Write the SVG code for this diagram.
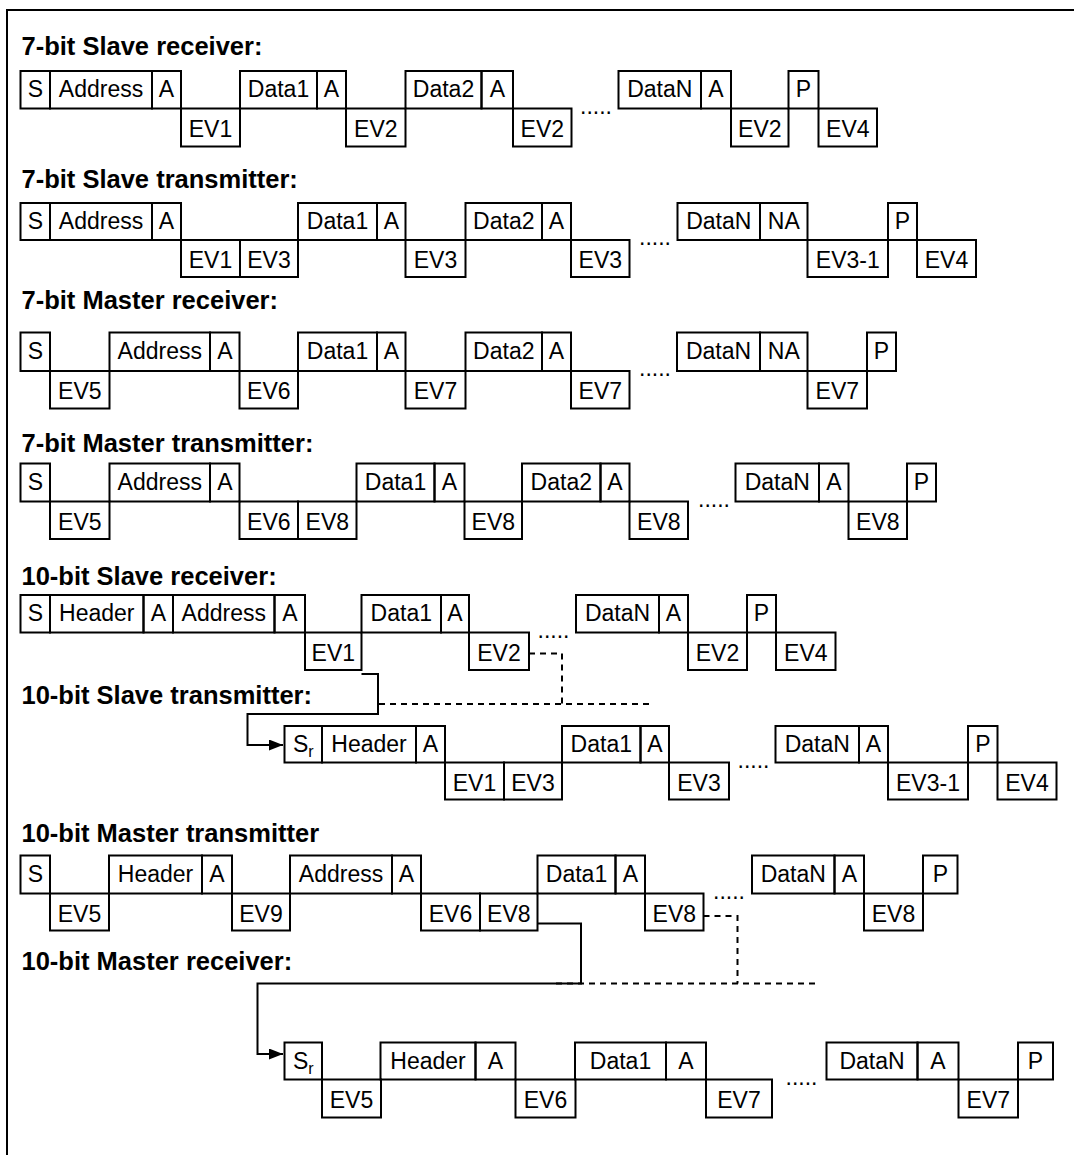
<svg xmlns="http://www.w3.org/2000/svg" width="1074" height="1155" viewBox="0 0 1074 1155">
<defs>
<style>
rect{fill:none;stroke:#000;stroke-width:2}
text{font-family:"Liberation Sans",Arial,Helvetica,sans-serif;fill:#000}
.t{font-size:23px;text-anchor:middle}
.l{font-size:25.5px;font-weight:bold}
.d{font-size:23px}
.c{fill:none;stroke:#000;stroke-width:2}
.dash{fill:none;stroke:#000;stroke-width:2;stroke-dasharray:6 5}
</style>
<marker id="ah" markerUnits="userSpaceOnUse" markerWidth="15" markerHeight="12" refX="14" refY="5.5" orient="auto"><path d="M0,0 L14,5.5 L0,11 z" fill="#000"/></marker>
</defs>
<rect x="0" y="0" width="1074" height="1155" style="fill:#fff;stroke:none"/>
<path class="c" d="M7 1160 V10 H1080"/>

<g id="labels">
<text class="l" x="21.5" y="55">7-bit Slave receiver:</text>
<text class="l" x="21.5" y="187.5">7-bit Slave transmitter:</text>
<text class="l" x="21.5" y="309">7-bit Master receiver:</text>
<text class="l" x="21.5" y="451.5">7-bit Master transmitter:</text>
<text class="l" x="21.5" y="585">10-bit Slave receiver:</text>
<text class="l" x="21.5" y="703.5">10-bit Slave transmitter:</text>
<text class="l" x="21.5" y="841.5">10-bit Master transmitter</text>
<text class="l" x="21.5" y="970">10-bit Master receiver:</text>
</g>

<!-- Row 1: T71 M108.5 B146.5 -->
<g id="r1-s"><rect x="20.5" y="71" width="29.5" height="37.5"/><text class="t" x="35.3" y="97">S</text></g>
<g id="r1-addr"><rect x="50" y="71" width="102" height="37.5"/><text class="t" x="101" y="97">Address</text></g>
<g id="r1-a1"><rect x="152" y="71" width="29" height="37.5"/><text class="t" x="166.5" y="97">A</text></g>
<g id="r1-ev1"><rect x="181" y="108.5" width="59" height="38"/><text class="t" x="210.5" y="136.5">EV1</text></g>
<g id="r1-d1"><rect x="240" y="71" width="77" height="37.5"/><text class="t" x="278.5" y="97">Data1</text></g>
<g id="r1-a2"><rect x="317" y="71" width="29" height="37.5"/><text class="t" x="331.5" y="97">A</text></g>
<g id="r1-ev2a"><rect x="346" y="108.5" width="59.5" height="38"/><text class="t" x="375.8" y="136.5">EV2</text></g>
<g id="r1-d2"><rect x="405.5" y="71" width="76" height="37.5"/><text class="t" x="443.5" y="97">Data2</text></g>
<g id="r1-a3"><rect x="481.5" y="71" width="31.5" height="37.5"/><text class="t" x="497.3" y="97">A</text></g>
<g id="r1-ev2b"><rect x="513" y="108.5" width="58.5" height="38"/><text class="t" x="542.3" y="136.5">EV2</text></g>
<text class="d" x="580" y="113.5">.....</text>
<g id="r1-dn"><rect x="618.5" y="71" width="82.5" height="37.5"/><text class="t" x="659.8" y="97">DataN</text></g>
<g id="r1-a4"><rect x="701" y="71" width="30" height="37.5"/><text class="t" x="716" y="97">A</text></g>
<g id="r1-ev2c"><rect x="731" y="108.5" width="57.5" height="38"/><text class="t" x="759.8" y="136.5">EV2</text></g>
<g id="r1-p"><rect x="788.5" y="71" width="30" height="37.5"/><text class="t" x="803.5" y="97">P</text></g>
<g id="r1-ev4"><rect x="818.5" y="108.5" width="58.5" height="38"/><text class="t" x="847.8" y="136.5">EV4</text></g>

<!-- Row 2: T203 M240 B277 -->
<g id="r2-s"><rect x="20.5" y="203" width="29.5" height="37"/><text class="t" x="35.3" y="229">S</text></g>
<g id="r2-addr"><rect x="50" y="203" width="102" height="37"/><text class="t" x="101" y="229">Address</text></g>
<g id="r2-a1"><rect x="152" y="203" width="29" height="37"/><text class="t" x="166.5" y="229">A</text></g>
<g id="r2-ev1"><rect x="181" y="240" width="59" height="37"/><text class="t" x="210.5" y="268">EV1</text></g>
<g id="r2-ev3a"><rect x="240" y="240" width="58" height="37"/><text class="t" x="269" y="268">EV3</text></g>
<g id="r2-d1"><rect x="298" y="203" width="79" height="37"/><text class="t" x="337.5" y="229">Data1</text></g>
<g id="r2-a2"><rect x="377" y="203" width="28.5" height="37"/><text class="t" x="391.3" y="229">A</text></g>
<g id="r2-ev3b"><rect x="405.5" y="240" width="60" height="37"/><text class="t" x="435.5" y="268">EV3</text></g>
<g id="r2-d2"><rect x="465.5" y="203" width="76.5" height="37"/><text class="t" x="503.8" y="229">Data2</text></g>
<g id="r2-a3"><rect x="542" y="203" width="29" height="37"/><text class="t" x="556.5" y="229">A</text></g>
<g id="r2-ev3c"><rect x="571" y="240" width="58.5" height="37"/><text class="t" x="600.3" y="268">EV3</text></g>
<text class="d" x="639" y="245">.....</text>
<g id="r2-dn"><rect x="677.5" y="203" width="82.5" height="37"/><text class="t" x="718.8" y="229">DataN</text></g>
<g id="r2-na"><rect x="760" y="203" width="47.5" height="37"/><text class="t" x="783.8" y="229">NA</text></g>
<g id="r2-ev31"><rect x="807.5" y="240" width="80.5" height="37"/><text class="t" x="847.8" y="268">EV3-1</text></g>
<g id="r2-p"><rect x="888" y="203" width="29" height="37"/><text class="t" x="902.5" y="229">P</text></g>
<g id="r2-ev4"><rect x="917" y="240" width="59" height="37"/><text class="t" x="946.5" y="268">EV4</text></g>

<!-- Row 3: T332.5 M371 B408.5 -->
<g id="r3-s"><rect x="20.5" y="332.5" width="29.5" height="38.5"/><text class="t" x="35.3" y="358.5">S</text></g>
<g id="r3-ev5"><rect x="50" y="371" width="59.5" height="37.5"/><text class="t" x="79.8" y="399">EV5</text></g>
<g id="r3-addr"><rect x="109.5" y="332.5" width="100.5" height="38.5"/><text class="t" x="159.8" y="358.5">Address</text></g>
<g id="r3-a1"><rect x="210" y="332.5" width="29.5" height="38.5"/><text class="t" x="224.8" y="358.5">A</text></g>
<g id="r3-ev6"><rect x="239.5" y="371" width="58.5" height="37.5"/><text class="t" x="268.8" y="399">EV6</text></g>
<g id="r3-d1"><rect x="298" y="332.5" width="79" height="38.5"/><text class="t" x="337.5" y="358.5">Data1</text></g>
<g id="r3-a2"><rect x="377" y="332.5" width="28.5" height="38.5"/><text class="t" x="391.3" y="358.5">A</text></g>
<g id="r3-ev7a"><rect x="405.5" y="371" width="60" height="37.5"/><text class="t" x="435.5" y="399">EV7</text></g>
<g id="r3-d2"><rect x="465.5" y="332.5" width="76.5" height="38.5"/><text class="t" x="503.8" y="358.5">Data2</text></g>
<g id="r3-a3"><rect x="542" y="332.5" width="29" height="38.5"/><text class="t" x="556.5" y="358.5">A</text></g>
<g id="r3-ev7b"><rect x="571" y="371" width="58.5" height="37.5"/><text class="t" x="600.3" y="399">EV7</text></g>
<text class="d" x="639" y="376">.....</text>
<g id="r3-dn"><rect x="677" y="332.5" width="83" height="38.5"/><text class="t" x="718.5" y="358.5">DataN</text></g>
<g id="r3-na"><rect x="760" y="332.5" width="47.5" height="38.5"/><text class="t" x="783.8" y="358.5">NA</text></g>
<g id="r3-ev7c"><rect x="807.5" y="371" width="59.5" height="37.5"/><text class="t" x="837.3" y="399">EV7</text></g>
<g id="r3-p"><rect x="867" y="332.5" width="29" height="38.5"/><text class="t" x="881.5" y="358.5">P</text></g>

<!-- Row 4: T463.5 M501.5 B539 -->
<g id="r4-s"><rect x="20.5" y="463.5" width="29.5" height="38"/><text class="t" x="35.3" y="489.5">S</text></g>
<g id="r4-ev5"><rect x="50" y="501.5" width="59.5" height="37.5"/><text class="t" x="79.8" y="529.5">EV5</text></g>
<g id="r4-addr"><rect x="109.5" y="463.5" width="100.5" height="38"/><text class="t" x="159.8" y="489.5">Address</text></g>
<g id="r4-a1"><rect x="210" y="463.5" width="29.5" height="38"/><text class="t" x="224.8" y="489.5">A</text></g>
<g id="r4-ev6"><rect x="239.5" y="501.5" width="58.5" height="37.5"/><text class="t" x="268.8" y="529.5">EV6</text></g>
<g id="r4-ev8a"><rect x="298" y="501.5" width="58.5" height="37.5"/><text class="t" x="327.3" y="529.5">EV8</text></g>
<g id="r4-d1"><rect x="356.5" y="463.5" width="78" height="38"/><text class="t" x="395.5" y="489.5">Data1</text></g>
<g id="r4-a2"><rect x="434.5" y="463.5" width="30" height="38"/><text class="t" x="449.5" y="489.5">A</text></g>
<g id="r4-ev8b"><rect x="464.5" y="501.5" width="57.5" height="37.5"/><text class="t" x="493.3" y="529.5">EV8</text></g>
<g id="r4-d2"><rect x="522" y="463.5" width="78.5" height="38"/><text class="t" x="561.3" y="489.5">Data2</text></g>
<g id="r4-a3"><rect x="600.5" y="463.5" width="29" height="38"/><text class="t" x="615" y="489.5">A</text></g>
<g id="r4-ev8c"><rect x="629.5" y="501.5" width="58.5" height="37.5"/><text class="t" x="658.8" y="529.5">EV8</text></g>
<text class="d" x="698" y="506.5">.....</text>
<g id="r4-dn"><rect x="735.5" y="463.5" width="83.5" height="38"/><text class="t" x="777.3" y="489.5">DataN</text></g>
<g id="r4-a4"><rect x="819" y="463.5" width="29.5" height="38"/><text class="t" x="833.8" y="489.5">A</text></g>
<g id="r4-ev8d"><rect x="848.5" y="501.5" width="58.5" height="37.5"/><text class="t" x="877.8" y="529.5">EV8</text></g>
<g id="r4-p"><rect x="907" y="463.5" width="29" height="38"/><text class="t" x="921.5" y="489.5">P</text></g>

<!-- Row 5: T595 M632.5 B670 -->
<g id="r5-s"><rect x="20.5" y="595" width="29.5" height="37.5"/><text class="t" x="35.3" y="621">S</text></g>
<g id="r5-hdr"><rect x="50" y="595" width="93.5" height="37.5"/><text class="t" x="96.8" y="621">Header</text></g>
<g id="r5-a1"><rect x="143.5" y="595" width="29.5" height="37.5"/><text class="t" x="158.3" y="621">A</text></g>
<g id="r5-addr"><rect x="173" y="595" width="101.5" height="37.5"/><text class="t" x="223.8" y="621">Address</text></g>
<g id="r5-a2"><rect x="274.5" y="595" width="30.5" height="37.5"/><text class="t" x="289.8" y="621">A</text></g>
<g id="r5-ev1"><rect x="305" y="632.5" width="56.5" height="37.5"/><text class="t" x="333.3" y="660.5">EV1</text></g>
<g id="r5-d1"><rect x="361.5" y="595" width="79.5" height="37.5"/><text class="t" x="401.3" y="621">Data1</text></g>
<g id="r5-a3"><rect x="441" y="595" width="28" height="37.5"/><text class="t" x="455" y="621">A</text></g>
<g id="r5-ev2a"><rect x="469" y="632.5" width="60" height="37.5"/><text class="t" x="499" y="660.5">EV2</text></g>
<text class="d" x="537.5" y="637.5">.....</text>
<g id="r5-dn"><rect x="576" y="595" width="83" height="37.5"/><text class="t" x="617.5" y="621">DataN</text></g>
<g id="r5-a4"><rect x="659" y="595" width="29" height="37.5"/><text class="t" x="673.5" y="621">A</text></g>
<g id="r5-ev2b"><rect x="688" y="632.5" width="59" height="37.5"/><text class="t" x="717.5" y="660.5">EV2</text></g>
<g id="r5-p"><rect x="747" y="595" width="29" height="37.5"/><text class="t" x="761.5" y="621">P</text></g>
<g id="r5-ev4"><rect x="776" y="632.5" width="59.5" height="37.5"/><text class="t" x="805.8" y="660.5">EV4</text></g>

<!-- Row 6: T726 M762.5 B799.5 -->
<g id="r6-sr"><rect x="284.5" y="726" width="37.5" height="36.5"/><text class="t" x="303.3" y="752">S<tspan font-size="16" dy="5">r</tspan></text></g>
<g id="r6-hdr"><rect x="322" y="726" width="94" height="36.5"/><text class="t" x="369" y="752">Header</text></g>
<g id="r6-a1"><rect x="416" y="726" width="29" height="36.5"/><text class="t" x="430.5" y="752">A</text></g>
<g id="r6-ev1"><rect x="445" y="762.5" width="59" height="37"/><text class="t" x="474.5" y="790.5">EV1</text></g>
<g id="r6-ev3a"><rect x="504" y="762.5" width="58" height="37"/><text class="t" x="533" y="790.5">EV3</text></g>
<g id="r6-d1"><rect x="562" y="726" width="78.5" height="36.5"/><text class="t" x="601.3" y="752">Data1</text></g>
<g id="r6-a2"><rect x="640.5" y="726" width="28.5" height="36.5"/><text class="t" x="654.8" y="752">A</text></g>
<g id="r6-ev3b"><rect x="669" y="762.5" width="60" height="37"/><text class="t" x="699" y="790.5">EV3</text></g>
<text class="d" x="737.5" y="767.5">.....</text>
<g id="r6-dn"><rect x="775.5" y="726" width="83.5" height="36.5"/><text class="t" x="817.3" y="752">DataN</text></g>
<g id="r6-a3"><rect x="859" y="726" width="29" height="36.5"/><text class="t" x="873.5" y="752">A</text></g>
<g id="r6-ev31"><rect x="888" y="762.5" width="80" height="37"/><text class="t" x="928" y="790.5">EV3-1</text></g>
<g id="r6-p"><rect x="968" y="726" width="29.5" height="36.5"/><text class="t" x="982.8" y="752">P</text></g>
<g id="r6-ev4"><rect x="997.5" y="762.5" width="59" height="37"/><text class="t" x="1027" y="790.5">EV4</text></g>

<!-- Row 7: T855.5 M893.5 B930.5 -->
<g id="r7-s"><rect x="20.5" y="855.5" width="29.5" height="38"/><text class="t" x="35.3" y="881.5">S</text></g>
<g id="r7-ev5"><rect x="50" y="893.5" width="59" height="37"/><text class="t" x="79.5" y="921.5">EV5</text></g>
<g id="r7-hdr"><rect x="109" y="855.5" width="93" height="38"/><text class="t" x="155.5" y="881.5">Header</text></g>
<g id="r7-a1"><rect x="202" y="855.5" width="30" height="38"/><text class="t" x="217" y="881.5">A</text></g>
<g id="r7-ev9"><rect x="232" y="893.5" width="58" height="37"/><text class="t" x="261" y="921.5">EV9</text></g>
<g id="r7-addr"><rect x="290" y="855.5" width="102" height="38"/><text class="t" x="341" y="881.5">Address</text></g>
<g id="r7-a2"><rect x="392" y="855.5" width="29" height="38"/><text class="t" x="406.5" y="881.5">A</text></g>
<g id="r7-ev6"><rect x="421" y="893.5" width="59" height="37"/><text class="t" x="450.5" y="921.5">EV6</text></g>
<g id="r7-ev8a"><rect x="480" y="893.5" width="57.5" height="37"/><text class="t" x="508.8" y="921.5">EV8</text></g>
<g id="r7-d1"><rect x="537.5" y="855.5" width="78" height="38"/><text class="t" x="576.5" y="881.5">Data1</text></g>
<g id="r7-a3"><rect x="615.5" y="855.5" width="29.5" height="38"/><text class="t" x="630.3" y="881.5">A</text></g>
<g id="r7-ev8b"><rect x="645" y="893.5" width="58.5" height="37"/><text class="t" x="674.3" y="921.5">EV8</text></g>
<text class="d" x="713" y="898.5">.....</text>
<g id="r7-dn"><rect x="752" y="855.5" width="82.5" height="38"/><text class="t" x="793.3" y="881.5">DataN</text></g>
<g id="r7-a4"><rect x="834.5" y="855.5" width="29.5" height="38"/><text class="t" x="849.3" y="881.5">A</text></g>
<g id="r7-ev8c"><rect x="864" y="893.5" width="59" height="37"/><text class="t" x="893.5" y="921.5">EV8</text></g>
<g id="r7-p"><rect x="923" y="855.5" width="34.5" height="38"/><text class="t" x="940.3" y="881.5">P</text></g>

<!-- Row 8: T1042.5 M1079.5 B1117.5 -->
<g id="r8-sr"><rect x="284.5" y="1042.5" width="37.5" height="37"/><text class="t" x="303.3" y="1068.5">S<tspan font-size="16" dy="5">r</tspan></text></g>
<g id="r8-ev5"><rect x="322" y="1079.5" width="59" height="38"/><text class="t" x="351.5" y="1107.5">EV5</text></g>
<g id="r8-hdr"><rect x="380.5" y="1042.5" width="95" height="37"/><text class="t" x="428" y="1068.5">Header</text></g>
<g id="r8-a1"><rect x="475.5" y="1042.5" width="40" height="37"/><text class="t" x="495.5" y="1068.5">A</text></g>
<g id="r8-ev6"><rect x="515.5" y="1079.5" width="60" height="38"/><text class="t" x="545.5" y="1107.5">EV6</text></g>
<g id="r8-d1"><rect x="575" y="1042.5" width="91" height="37"/><text class="t" x="620.5" y="1068.5">Data1</text></g>
<g id="r8-a2"><rect x="666" y="1042.5" width="40" height="37"/><text class="t" x="686" y="1068.5">A</text></g>
<g id="r8-ev7a"><rect x="706" y="1079.5" width="66" height="38"/><text class="t" x="739" y="1107.5">EV7</text></g>
<text class="d" x="785.5" y="1084.5">.....</text>
<g id="r8-dn"><rect x="826.5" y="1042.5" width="91" height="37"/><text class="t" x="872" y="1068.5">DataN</text></g>
<g id="r8-a3"><rect x="917.5" y="1042.5" width="41" height="37"/><text class="t" x="938" y="1068.5">A</text></g>
<g id="r8-ev7b"><rect x="958.5" y="1079.5" width="59.5" height="38"/><text class="t" x="988.3" y="1107.5">EV7</text></g>
<g id="r8-p"><rect x="1018" y="1042.5" width="35" height="37"/><text class="t" x="1035.5" y="1068.5">P</text></g>

<g id="connectors">
<path class="c" d="M361.5 674 H378 V714 H247.5 V745 H283" marker-end="url(#ah)"/>
<path class="dash" d="M529 653.5 H562 V704"/>
<path class="dash" d="M379 704 H653"/>
<path class="c" d="M537.5 923.5 H581 V983.5 H257.5 V1054 H283" marker-end="url(#ah)"/>
<path class="dash" d="M703.5 916 H737.5 V983.5"/>
<path class="dash" d="M556 983.5 H820"/>
</g>
</svg>
